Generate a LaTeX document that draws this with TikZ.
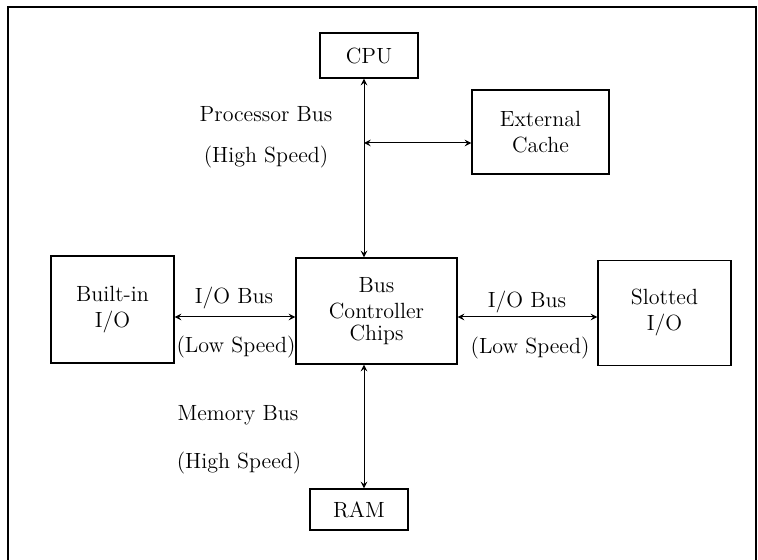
\documentclass[tikz,border=0pt]{standalone}
\begin{document}
\begin{tikzpicture}[x=0.5pt, y=-0.5pt, line width=0.6pt,
  box/.style={draw, rectangle, align=center, inner sep=0pt, font=\fontsize{11}{13}\selectfont},
  lbl/.style={font=\fontsize{11}{13}\selectfont},
  bus/.style={<->, >=stealth, line width=0.5pt}]
  \useasboundingbox (0,0) rectangle (758,560);
  \draw[line width=1.3pt] (8,560) -- (8,7) -- (756,7) -- (756,560);
  \node[box, minimum width=49pt, minimum height=22.5pt] (cpu) at (369,55.5) {CPU};
  \node[box, minimum width=68.5pt, minimum height=42pt] (cache) at (540.5,132) {External\\Cache};
  \node[box, minimum width=61.5pt, minimum height=53.5pt] (bio) at (112.5,309.5) {Built-in\\I/O};
  \node[box, minimum width=80.5pt, minimum height=53pt] (bcc) at (376.5,311) {Bus\\Controller\\[-2pt]Chips};
  \node[box, minimum width=66.5pt, minimum height=52.5pt] (sio) at (664.5,313) {Slotted\\I/O};
  \node[box, minimum width=49pt, minimum height=20.5pt] (ram) at (359,509.5) {RAM};
  \coordinate (pbus) at (364,143);
  \coordinate (iobus) at (0,317);
  % buses
  \draw[bus] (cpu.south -| pbus) -- (bcc.north -| pbus);
  \draw[bus] (pbus) -- (cache.west |- pbus);
  \draw[bus] (bio.east |- iobus) -- (bcc.west |- iobus);
  \draw[bus] (bcc.east |- iobus) -- (sio.west |- iobus);
  \draw[bus] (bcc.south -| pbus) -- (ram.north -| pbus);
  % bus labels
  \node[lbl] (pbn) at (266,114) {Processor Bus};
  \node[lbl] (pbs) at (266,157) {(High Speed)};
  \node[lbl] (lion) at (234,298) {I/O Bus};
  \node[lbl] (lios) at (236,347) {(Low Speed)};
  \node[lbl] (rion) at (527,302) {I/O Bus};
  \node[lbl] (rios) at (530,348) {(Low Speed)};
  \node[lbl] (mbn) at (238,415) {Memory Bus};
  \node[lbl] (mbs) at (239,463) {(High Speed)};
\end{tikzpicture}
\end{document}
